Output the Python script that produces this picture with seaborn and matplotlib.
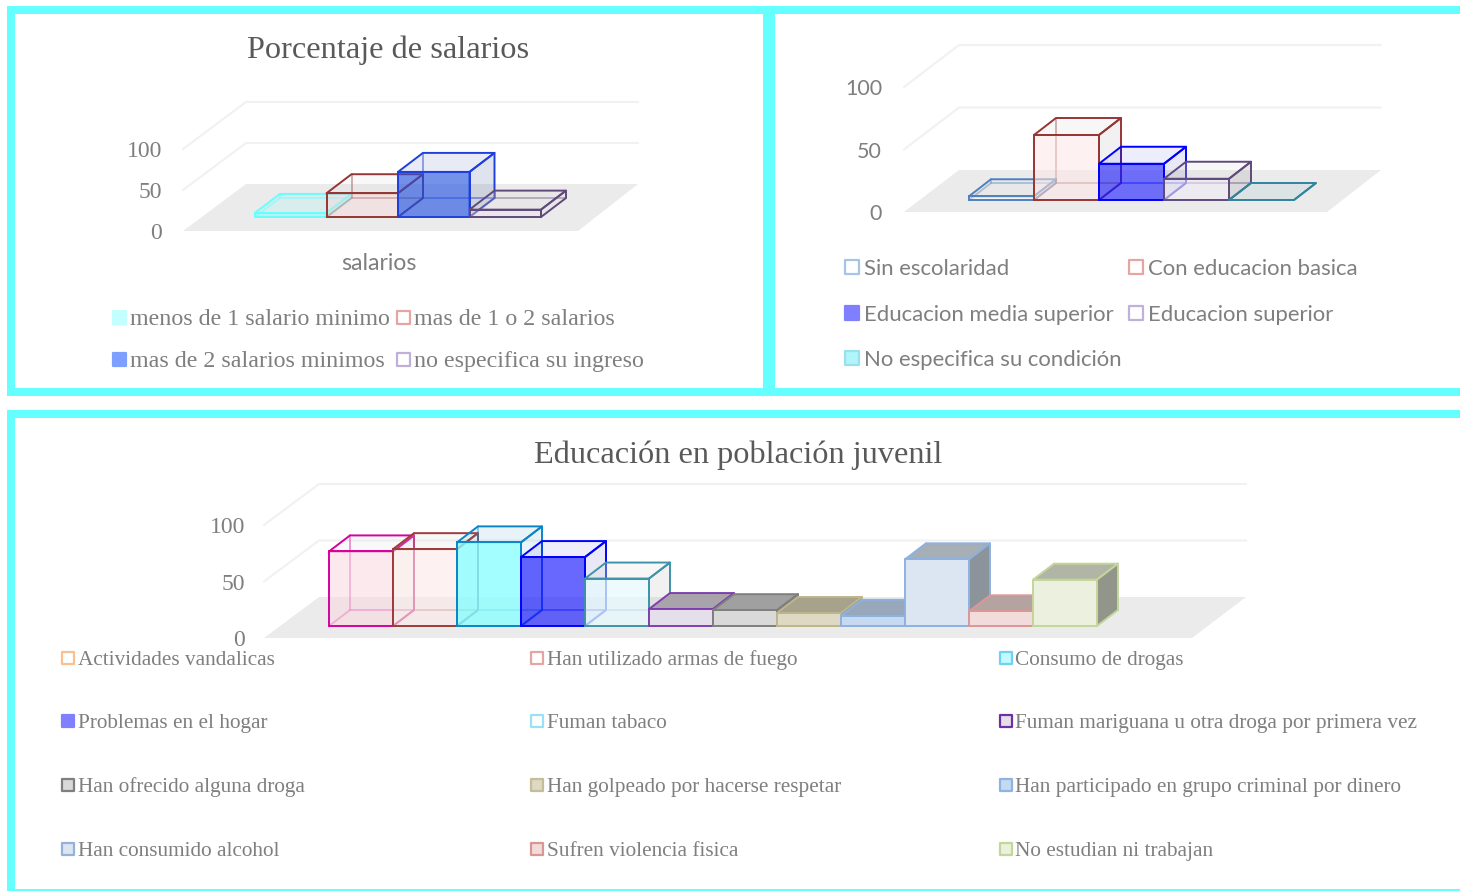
#!/usr/bin/env python3
import matplotlib
matplotlib.use("Agg")
import matplotlib.pyplot as plt
import pandas as pd
import seaborn as sns
from matplotlib.colors import to_rgba
from matplotlib.patches import Polygon, Rectangle

W, H = 1460, 891
SERIF = "Liberation Serif"
SANS = "Lato"
FRAME = "#66FFFF"
FLOOR = "#EBEBEB"
GRID = "#F1F1F1"
TEXT = "#7F7F7F"
TITLE = "#595959"

# ── Data ─────────────────────────────────────────────────────────────────────
salarios_labels = ["menos de 1 salario minimo", "mas de 1 o 2 salarios",
                   "mas de 2 salarios minimos", "no especifica su ingreso"]
salarios_values = [5, 29, 55, 9]

escolaridad_labels = ["Sin escolaridad", "Con educacion basica",
                      "Educacion media superior", "Educacion superior",
                      "No especifica su condición"]
escolaridad_values = [3, 52, 29, 17, 0]

juvenil_labels = ["Actividades vandalicas", "Han utilizado armas de fuego",
                  "Consumo de drogas", "Problemas en el hogar", "Fuman tabaco",
                  "Fuman mariguana u otra droga por primera vez",
                  "Han ofrecido alguna droga",
                  "Han golpeado por hacerse respetar",
                  "Han participado en grupo criminal por dinero",
                  "Han consumido alcohol", "Sufren violencia fisica",
                  "No estudian ni trabajan"]
juvenil_values = [66, 68, 74, 61, 42, 15, 14, 11.5, 9, 59, 13, 41]

y_ticks = [0, 50, 100]

# ── Styles: edge, front, top, side (colour + alpha), legend swatch ───────────
salarios_style = {
    "edge":  ["#66FFFF", "#943634", "#1F3FDC", "#5F497A"],
    "front": [("#66FFFF", .35), ("#F8D5D5", .40), ("#2050E0", .62), ("#E6DFF0", .40)],
    "top":   [("#66FFFF", .12), ("#D9D9D9", .18), ("#1F3FAA", .10), ("#D9D9D9", .20)],
    "side":  [("#66FFFF", .12), ("#D9D9D9", .18), ("#1F3F88", .14), ("#D9D9D9", .20)],
    "swatch_fill": ["#C4FFFF", "#FFFFFF", "#7F9FFF", "#FFFFFF"],
    "swatch_edge": ["#C4FFFF", "#E6A5A3", "#7F9FFF", "#BFB0D8"],
}
escolaridad_style = {
    "edge":  ["#4F81BD", "#943634", "#0000FF", "#5F497A", "#31859C"],
    "front": [("#FFFFFF", .35), ("#FDE9E7", .55), ("#2020FF", .62), ("#EFEAF7", .60), ("#FFFFFF", .20)],
    "top":   [("#D9D9D9", .15), ("#D9D9D9", .20), ("#2020CC", .08), ("#D9D9D9", .20), ("#31859C", .08)],
    "side":  [("#D9D9D9", .15), ("#A6A6A6", .15), ("#2020AA", .10), ("#A6A6A6", .25), ("#31859C", .08)],
    "swatch_fill": ["#FFFFFF", "#FFFFFF", "#7F7FFF", "#FFFFFF", "#B0F5F9"],
    "swatch_edge": ["#A6C4E6", "#E6A5A3", "#7F7FFF", "#C0B0DC", "#9BE0EA"],
}
juvenil_style = {
    "edge":  ["#D6009E", "#9E3B3B", "#0A86C8", "#0000FF", "#3E93A8", "#7E3FAE",
              "#7F7F7F", "#BDB58C", "#8DB1E0", "#8DB1E0", "#DC9796", "#C3D69B"],
    "front": [("#FBD8DF", .55), ("#FCEAE8", .60), ("#8CFFFF", .80), ("#2020FF", .68), ("#E6FAFF", .70), ("#E5DFEC", 1),
              ("#D9D9D9", 1), ("#DDD9C3", 1), ("#C6D9F1", 1), ("#DCE6F2", 1), ("#F2DCDB", 1), ("#EBF1DE", 1)],
    "top":   [("#D9D9D9", .15), ("#D9D9D9", .20), ("#3AA0C8", .12), ("#2020CC", .08), ("#D9D9D9", .20), ("#A9A4AC", 1),
              ("#A0A0A0", 1), ("#A6A28C", 1), ("#98A7BA", 1), ("#A6AEB6", 1), ("#B5A3A2", 1), ("#B1B5A5", 1)],
    "side":  [("#D9D9D9", .15), ("#D9D9D9", .20), ("#3AA0C8", .12), ("#2020AA", .10), ("#A6A6A6", .15), ("#8A8A8A", 1),
              ("#8A8A8A", 1), ("#8C8A78", 1), ("#8A929C", 1), ("#8B939B", 1), ("#9C8C8B", 1), ("#92958A", 1)],
    "swatch_fill": ["#FFFFFF", "#FFFFFF", "#C0FBFF", "#7F7FFF", "#FFFFFF", "#E5DFEC",
                    "#D9D9D9", "#DDD9C3", "#C6D9F1", "#DCE6F2", "#F2DCDB", "#EBF1DE"],
    "swatch_edge": ["#FAC090", "#E6A5A3", "#72D0F4", "#7F7FFF", "#9BE0F4", "#7030A0",
                    "#7F7F7F", "#C4BD97", "#8DB4E2", "#95B3D7", "#D99694", "#C3D69B"],
}

# ── Canvas: one pixel-scaled axes for frames, floors and labels ──────────────
sns.set_theme(style="white")
plt.rcParams["font.family"] = [SERIF, "DejaVu Serif"]

fig = plt.figure(figsize=(W / 100, H / 100), dpi=100, facecolor="white")
bg = fig.add_axes([0, 0, 1, 1])
bg.set_xlim(0, W)
bg.set_ylim(H, 0)
bg.set_axis_off()

# cyan panel frames
for x0, y0, x1, y1 in [(7, 6, 1460, 14), (7, 388, 1460, 396), (7, 6, 15, 396),
                       (763, 6, 775, 396), (7, 410, 1460, 418),
                       (7, 410, 15, 891), (7, 889, 1460, 891)]:
    bg.add_patch(Rectangle((x0, y0), x1 - x0, y1 - y0, color=FRAME, lw=0))


def draw_panel(labels, values, style, geom):
    """Floor and walls on the canvas, then the boxes through a seaborn barplot."""
    unit = geom["unit"]
    (fl, fr), (bl, br) = geom["front_x"], geom["back_x"]
    fy, by = geom["front_y"], geom["back_y"]

    bg.add_patch(Polygon([(fl, fy), (fr, fy), (br, by), (bl, by)], color=FLOOR, lw=0))
    for v in y_ticks[1:]:
        bg.plot([fl, bl, br], [fy - v * unit, by - v * unit, by - v * unit],
                color=GRID, lw=1.5, solid_joinstyle="miter")
    for v in y_ticks:
        bg.text(geom["tick_x"], fy - v * unit + geom["tick_dy"], str(v), ha="right", va="center",
                family=geom["font"], fontsize=geom["tick_size"], color=TEXT)

    # value axis: 0 on the bar base, one unit = `unit` pixels
    x0, x1 = geom["bar_x"]
    base, top = geom["base_y"], geom["base_y"] - 100 * unit
    ax = fig.add_axes([x0 / W, 1 - base / H, (x1 - x0) / W, (base - top) / H])
    ax.patch.set_alpha(0)
    df = pd.DataFrame({"cat": labels, "val": values})
    sns.barplot(data=df, x="cat", y="val", hue="cat", order=labels, hue_order=labels,
                palette=["#FFFFFF"] * len(labels), dodge=False, width=1,
                saturation=1, legend=False, ax=ax)
    ax.set_xlim(-0.5, len(labels) - 0.5)
    ax.set_ylim(0, 100)
    ax.set_axis_off()

    # box depth expressed in the axes' own units
    dx = geom["depth_px"][0] * (len(labels) / (x1 - x0))
    dy = geom["depth_px"][1] / unit

    bars = sorted([p for p in ax.patches if isinstance(p, Rectangle)], key=lambda p: p.get_x())
    for i, bar in enumerate(bars):
        a, b, h = bar.get_x(), bar.get_x() + bar.get_width(), bar.get_height()
        edge = style["edge"][i]
        z = 3 + i * 2
        lw = geom["lw"]
        # inner edges seen through the box
        inner = to_rgba(edge, .45)
        ax.plot([a, a + dx, b + dx], [0, dy, dy], color=inner, lw=lw, zorder=z, clip_on=False)
        ax.plot([a + dx, a + dx], [dy, h + dy], color=inner, lw=lw, zorder=z, clip_on=False)
        top_face = Polygon([(a, h), (b, h), (b + dx, h + dy), (a + dx, h + dy)],
                           facecolor=to_rgba(*style["top"][i]), edgecolor=edge,
                           lw=lw, zorder=z, clip_on=False, joinstyle="round")
        side_face = Polygon([(b, 0), (b + dx, dy), (b + dx, h + dy), (b, h)],
                            facecolor=to_rgba(*style["side"][i]), edgecolor=edge,
                            lw=lw, zorder=z, clip_on=False, joinstyle="round")
        ax.add_patch(top_face)
        ax.add_patch(side_face)
        bar.set_facecolor(to_rgba(*style["front"][i]))
        bar.set_edgecolor(edge)
        bar.set_linewidth(lw)
        bar.set_zorder(z + 1)
        bar.set_clip_on(False)


def draw_legend(labels, style, cols, rows, text_dx, font, size, box):
    n = 0
    for y in rows:
        for x in cols:
            if n >= len(labels):
                return
            bg.add_patch(Rectangle((x, y - box / 2), box, box, facecolor=style["swatch_fill"][n],
                                   edgecolor=style["swatch_edge"][n], lw=1.6, joinstyle="round"))
            bg.text(x + text_dx, y, labels[n], ha="left", va="center_baseline",
                    family=font, fontsize=size, color=TEXT)
            n += 1


# ── Panel 1: salarios ────────────────────────────────────────────────────────
draw_panel(salarios_labels, salarios_values, salarios_style, {
    "unit": 0.82, "front_x": (183, 578), "back_x": (246, 638), "front_y": 231, "back_y": 184,
    "tick_x": 162, "tick_dy": 2.5, "tick_size": 17, "font": SERIF,
    "bar_x": (255, 541), "base_y": 217, "depth_px": (25, 19), "lw": 1.4,
})
bg.text(388, 50.5, "Porcentaje de salarios", ha="center", va="center",
        family=SERIF, fontsize=23.3, color=TITLE)
bg.text(379, 264, "salarios", ha="center", va="center", family=SANS, fontsize=16.6, color=TEXT)
draw_legend(salarios_labels, salarios_style, [113, 397], [317, 359], 17, SERIF, 17.3, 13)

# ── Panel 2: escolaridad ─────────────────────────────────────────────────────
draw_panel(escolaridad_labels, escolaridad_values, escolaridad_style, {
    "unit": 1.25, "front_x": (904, 1327), "back_x": (959, 1381), "front_y": 212, "back_y": 170,
    "tick_x": 882, "tick_dy": 2, "tick_size": 15.5, "font": SANS,
    "bar_x": (969, 1294), "base_y": 200, "depth_px": (22, 17), "lw": 1.4,
})
draw_legend(escolaridad_labels, escolaridad_style, [845, 1129], [267, 313, 358], 19, SANS, 15.9, 14)

# ── Panel 3: población juvenil ───────────────────────────────────────────────
draw_panel(juvenil_labels, juvenil_values, juvenil_style, {
    "unit": 1.13, "front_x": (264, 1192), "back_x": (319, 1246), "front_y": 638, "back_y": 597,
    "tick_x": 245, "tick_dy": 2.5, "tick_size": 17, "font": SERIF,
    "bar_x": (329, 1097), "base_y": 626, "depth_px": (21, 16), "lw": 1.4,
})
bg.text(738, 455, "Educación en población juvenil", ha="center", va="center",
        family=SERIF, fontsize=23.3, color=TITLE)
draw_legend(juvenil_labels, juvenil_style, [62, 531, 999.5], [658, 721, 785, 849], 15.7, SERIF, 15.3, 12)

fig.savefig("out.png", dpi=100)
